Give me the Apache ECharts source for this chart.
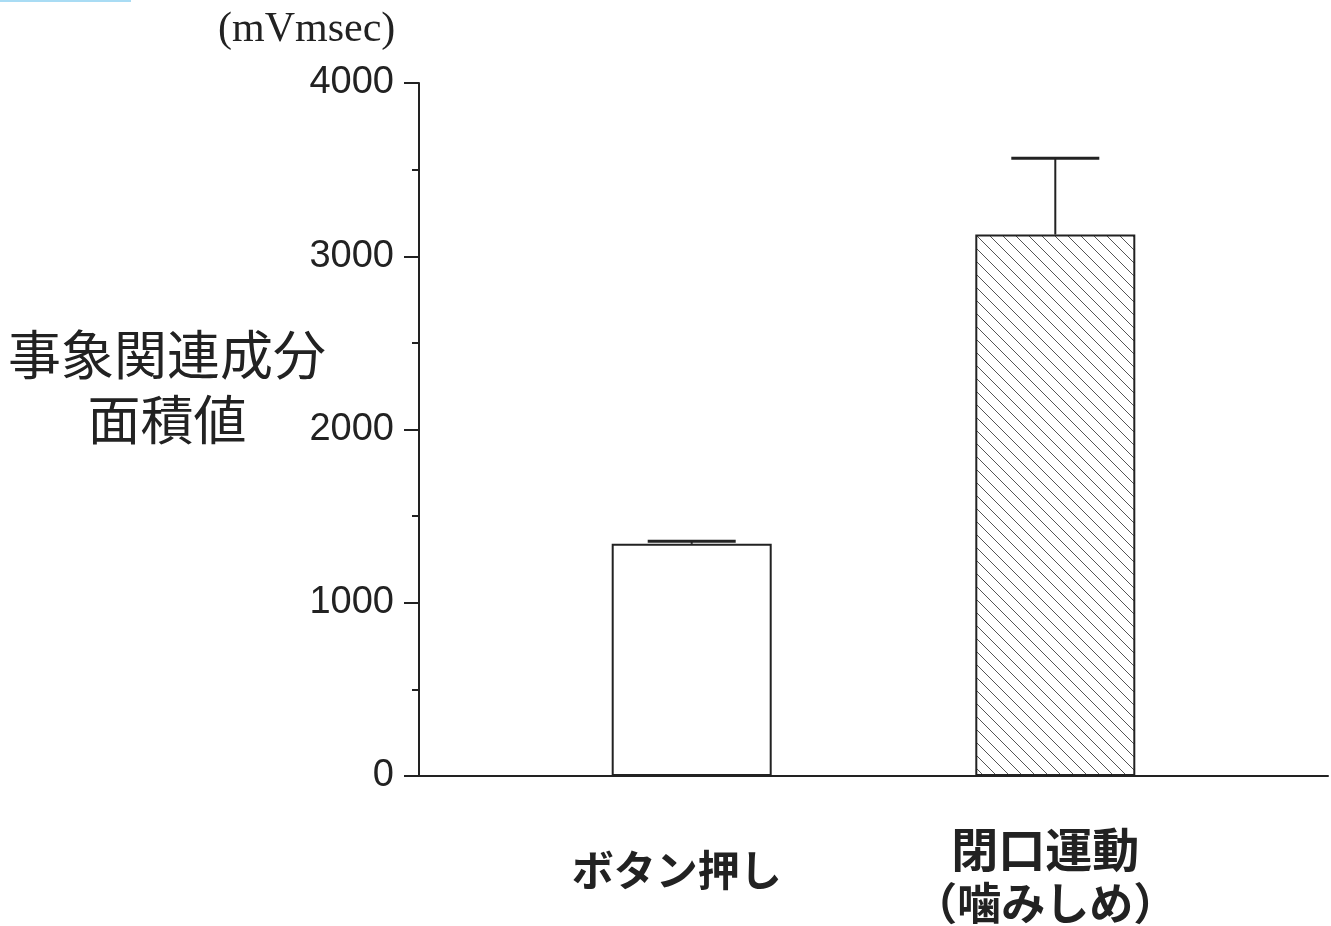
<!DOCTYPE html>
<html>
<head>
<meta charset="utf-8">
<script src="https://cdn.jsdelivr.net/npm/echarts@6/dist/echarts.min.js"></script>
<style>
  html, body { margin: 0; padding: 0; background: #fff; }
  #chart { width: 1331px; height: 926px; }
</style>
</head>
<body>
<div id="chart"></div>
<script>
// Category slots: the empty ones keep the two groups spaced along the axis
const categories = ['', 'ボタン押し', '', '閉口運動\n（噛みしめ）', ''];
// Mean area values (mV·msec) and their error bars
const means  = ['-', 1340, '-', 3125, '-'];
const errors = ['-', 15, '-', 440, '-'];
// Y axis ticks
const yTicks = [0, 1000, 2000, 3000, 4000];

const INK = '#222222';

// Diagonal hatch tile for the second bar
function hatchPattern() {
  const s = 13;
  const c = document.createElement('canvas');
  c.width = s; c.height = s;
  const g = c.getContext('2d');
  g.strokeStyle = '#555';
  g.lineWidth = 1;
  g.beginPath();
  for (let k = -1; k <= 1; k++) {
    g.moveTo(k * s - 1, -1);
    g.lineTo(k * s + s + 1, s + 1);
  }
  g.stroke();
  return c;
}

const barStyles = [
  null,
  { color: '#ffffff', borderColor: INK, borderWidth: 2 },
  null,
  { color: { image: hatchPattern(), repeat: 'repeat' }, borderColor: INK, borderWidth: 2 },
  null
];

const chart = echarts.init(document.getElementById('chart'), null, { renderer: 'canvas' });

chart.setOption({
  animation: false,
  backgroundColor: '#ffffff',
  title: [
    {
      text: '(mVmsec)',
      left: 213,
      top: 4,
      textStyle: { fontFamily: 'Liberation Serif', fontSize: 42, fontWeight: 'normal', color: INK }
    },
    {
      text: '事象関連成分\n面積値',
      left: 167,
      top: 322,
      textAlign: 'center',
      padding: 0,
      textStyle: { fontFamily: 'Noto Sans CJK JP', fontSize: 53, fontWeight: 'normal', color: INK, lineHeight: 65 }
    }
  ],
  graphic: [{
    type: 'rect',
    left: 0, top: 0,
    shape: { width: 131, height: 2 },
    style: { fill: '#a9dcf4' }
  }],
  grid: { left: 419, right: 3, top: 83, bottom: 150, containLabel: false },
  xAxis: {
    type: 'category',
    data: categories,
    axisLine: { lineStyle: { color: INK, width: 2 } },
    axisTick: { show: false },
    axisLabel: {
      interval: 0,
      margin: 46,
      formatter: function (v) {
        if (!v) return '';
        const lines = v.split('\n');
        if (lines.length === 1) return '{one|' + v + '}';
        return '{top|' + lines[0] + '}\n{bot|' + lines[1] + '}';
      },
      rich: {
        one: { fontFamily: 'Noto Sans CJK JP', fontSize: 42, fontWeight: 'bold', color: INK, lineHeight: 96, padding: [0, 30, 0, 0] },
        top: { fontFamily: 'Noto Sans CJK JP', fontSize: 47, fontWeight: 'bold', color: INK, lineHeight: 54, padding: [0, 20, 0, 0] },
        bot: { fontFamily: 'Noto Sans CJK JP', fontSize: 44, fontWeight: 'bold', color: INK, lineHeight: 54, padding: [0, 20, 0, 0] }
      }
    }
  },
  yAxis: {
    type: 'value',
    min: yTicks[0],
    max: yTicks[yTicks.length - 1],
    interval: 1000,
    axisLine: { show: true, lineStyle: { color: INK, width: 2 } },
    axisTick: { show: true, length: 15, lineStyle: { color: INK, width: 2 } },
    minorTick: { show: true, splitNumber: 2, length: 7, lineStyle: { color: INK, width: 2 } },
    splitLine: { show: false },
    axisLabel: {
      margin: 25,
      formatter: v => String(v),
      fontFamily: 'Liberation Sans',
      fontSize: 38,
      color: INK
    }
  },
  series: [
    {
      type: 'bar',
      barWidth: 160,
      data: means.map((v, i) => ({ value: v, itemStyle: barStyles[i] || undefined })),
      z: 2
    },
    {
      type: 'custom',
      z: 3,
      data: means.map((v, i) => (v === '-' ? null : [i, v, errors[i]])).filter(Boolean),
      renderItem: function (params, api) {
        const idx = api.value(0);
        const base = api.coord([idx, api.value(1)]);
        const top = api.coord([idx, api.value(1) + api.value(2)]);
        const half = 44;
        return {
          type: 'group',
          children: [
            { type: 'line', shape: { x1: base[0], y1: base[1], x2: top[0], y2: top[1] },
              style: { stroke: INK, lineWidth: 2 } },
            { type: 'line', shape: { x1: top[0] - half, y1: top[1], x2: top[0] + half, y2: top[1] },
              style: { stroke: INK, lineWidth: 3 } }
          ]
        };
      }
    }
  ]
});
</script>
</body>
</html>
